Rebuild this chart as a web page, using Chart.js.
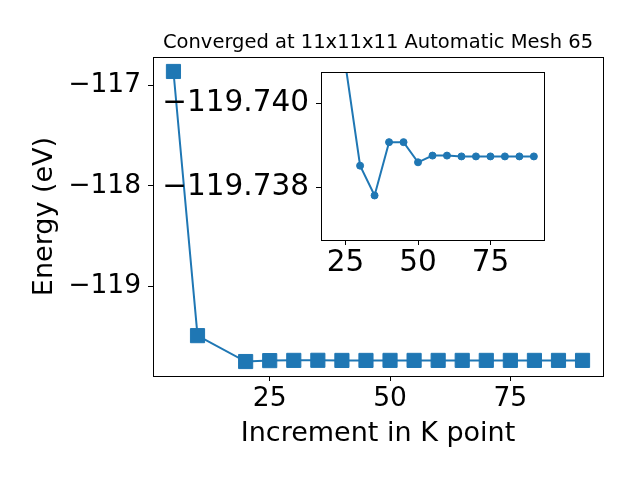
<!DOCTYPE html>
<html>
<head>
<meta charset="utf-8">
<script src="https://cdn.jsdelivr.net/npm/chart.js@4.4.1/dist/chart.umd.min.js"></script>
<style>
  body { margin: 0; background: #fff; }
  canvas { position: absolute; left: 0; top: 0; }
</style>
</head>
<body>
<canvas id="main" width="640" height="480"></canvas>
<canvas id="inset" width="640" height="480"></canvas>
<script>
// data
const kPoints = [5, 10, 20, 25, 30, 35, 40, 45, 50, 55, 60, 65, 70, 75, 80, 85, 90];
const energies = [-116.864, -119.4925, -119.7500, -119.7409, -119.73852, -119.73781,
  -119.73908, -119.73908, -119.73860, -119.73876, -119.73876, -119.73874,
  -119.73874, -119.73874, -119.73874, -119.73874, -119.73874];
const xTicks = [25, 50, 75];
const mainYTicks = [-117, -118, -119];
const insetYTicks = [-119.740, -119.738];
const titleText = 'Converged at 11x11x11 Automatic Mesh 65';

const FONT = '"DejaVu Sans", sans-serif';
const BLUE = '#1f77b4';
const minus = (v, d) => (v < 0 ? '\u2212' : '') + Math.abs(v).toFixed(d);

// frame on all four sides, optional white fill behind the plot
const framePlugin = {
  id: 'frame',
  beforeDraw(chart, args, opts) {
    if (!opts.fill) return;
    const a = chart.chartArea, ctx = chart.ctx;
    ctx.save();
    ctx.fillStyle = '#fff';
    ctx.fillRect(a.left, a.top, a.right - a.left, a.bottom - a.top);
    ctx.restore();
  },
  afterDraw(chart) {
    const a = chart.chartArea, ctx = chart.ctx;
    ctx.save();
    ctx.strokeStyle = '#000';
    ctx.lineWidth = 1;
    ctx.strokeRect(Math.round(a.left) + 0.5, Math.round(a.top) + 0.5,
      Math.round(a.right - a.left), Math.round(a.bottom - a.top));
    ctx.restore();
  }
};

// title centred over the plot area like matplotlib
const titlePlugin = {
  id: 'axTitle',
  afterDraw(chart, args, opts) {
    if (!opts.text) return;
    const a = chart.chartArea, ctx = chart.ctx;
    ctx.save();
    ctx.fillStyle = '#000';
    ctx.font = '19.5px ' + FONT;
    ctx.textAlign = 'center';
    ctx.textBaseline = 'alphabetic';
    ctx.fillText(opts.text, (a.left + a.right) / 2, 48);
    ctx.restore();
  }
};

const tickGrid = { drawOnChartArea: false, drawTicks: true, tickLength: 5, color: '#000', lineWidth: 1 };
const tickBorder = { color: '#000', width: 1 };

function points(xs, ys) {
  return xs.map((x, i) => ({ x: x, y: ys[i] }));
}

new Chart(document.getElementById('main'), {
  type: 'line',
  data: {
    datasets: [{
      data: points(kPoints, energies),
      borderColor: BLUE,
      backgroundColor: BLUE,
      borderWidth: 2,
      pointStyle: 'rect',
      pointRadius: 10,
      pointBorderWidth: 1,
      tension: 0
    }]
  },
  options: {
    responsive: false,
    animation: false,
    layout: { padding: { left: 0, top: 57, right: 37, bottom: 0 } },
    plugins: {
      legend: { display: false },
      tooltip: { enabled: false },
      frame: {},
      axTitle: { text: titleText }
    },
    scales: {
      x: {
        type: 'linear',
        min: 0.75, max: 94.25,
        afterBuildTicks: s => { s.ticks = xTicks.map(v => ({ value: v })); },
        afterFit: s => { s.height = 104; },
        grid: tickGrid,
        border: tickBorder,
        ticks: { color: '#000', font: { family: FONT, size: 26.5 }, padding: 2, maxRotation: 0 },
        title: { display: true, text: 'Increment in K point', color: '#000',
          font: { family: FONT, size: 27 }, padding: { top: 0, bottom: 30 } }
      },
      y: {
        min: -119.894, max: -116.72,
        afterBuildTicks: s => { s.ticks = mainYTicks.map(v => ({ value: v })); },
        afterFit: s => { s.width = 153; },
        grid: tickGrid,
        border: tickBorder,
        ticks: { color: '#000', font: { family: FONT, size: 26.5 }, padding: 7,
          callback: v => minus(v, 0) },
        title: { display: true, text: 'Energy (eV)', color: '#000',
          font: { family: FONT, size: 27 }, padding: { top: 29, bottom: 0 } }
      }
    }
  },
  plugins: [framePlugin, titlePlugin]
});

new Chart(document.getElementById('inset'), {
  type: 'line',
  data: {
    datasets: [{
      data: points(kPoints.slice(2), energies.slice(2)),
      borderColor: BLUE,
      backgroundColor: BLUE,
      borderWidth: 2,
      pointStyle: 'circle',
      pointRadius: 3.5,
      pointBorderWidth: 1,
      tension: 0,
      clip: 0
    }]
  },
  options: {
    responsive: false,
    animation: false,
    layout: { padding: { left: 0, top: 72, right: 96, bottom: 0 } },
    plugins: {
      legend: { display: false },
      tooltip: { enabled: false },
      frame: { fill: true },
      axTitle: {}
    },
    scales: {
      x: {
        type: 'linear',
        min: 16.5, max: 93.5,
        afterBuildTicks: s => { s.ticks = xTicks.map(v => ({ value: v })); },
        afterFit: s => { s.height = 240; },
        grid: tickGrid,
        border: tickBorder,
        ticks: { color: '#000', font: { family: FONT, size: 29.5 }, padding: 1, maxRotation: 0 }
      },
      y: {
        reverse: true,
        min: -119.74075, max: -119.73675,
        afterBuildTicks: s => { s.ticks = insetYTicks.map(v => ({ value: v })); },
        afterFit: s => { s.width = 321; },
        grid: tickGrid,
        border: tickBorder,
        ticks: { color: '#000', font: { family: FONT, size: 29.5 }, padding: 7,
          callback: v => minus(v, 3) }
      }
    }
  },
  plugins: [framePlugin, titlePlugin]
});
</script>
</body>
</html>
